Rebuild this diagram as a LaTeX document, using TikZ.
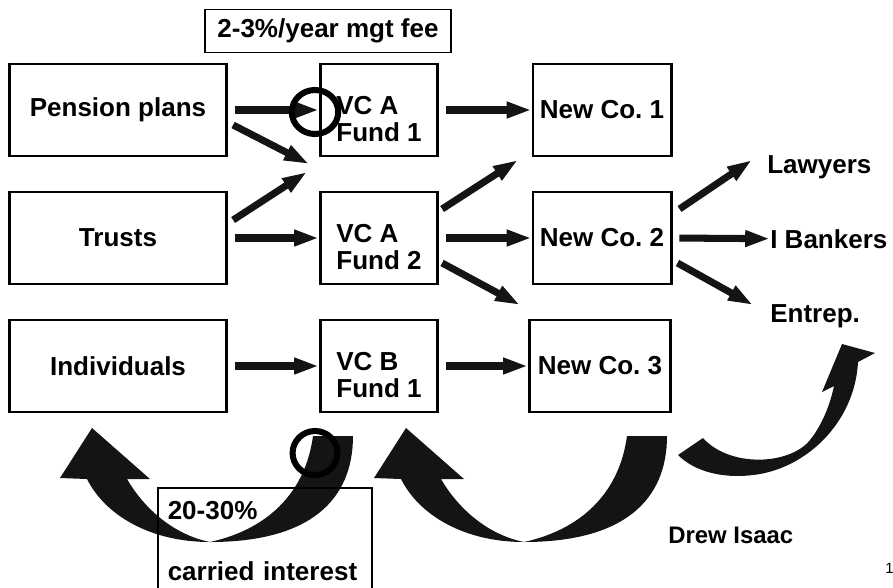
\documentclass[tikz,border=0pt]{standalone}
\usepackage{fontspec}
\setmainfont{Liberation Sans}
\usetikzlibrary{arrows.meta}
\usetikzlibrary{calc}
\frenchspacing

\tikzset{
  box/.style={draw, line width=2.1pt, minimum height=2.3cm, inner sep=0pt,
    align=left, font=\bfseries\fontsize{18.5}{19.5}\selectfont},
  fundbox/.style={box, minimum width=2.93cm, text height=1.6cm},
  thinbox/.style={draw, line width=1.1pt, font=\bfseries\fontsize{18.5}{19.5}\selectfont},
  lbl/.style={anchor=base west, inner sep=0pt, font=\bfseries\fontsize{18.5}{19.5}\selectfont},
  flow/.style={line width=5pt, draw=black!92, -{Triangle[length=0.62cm,width=0.38cm]}},
  hflow/.style={flow, shorten <=0.17cm},
  bigarrow/.style={fill=black!92},
  ring/.style={draw=black, line width=4.3pt},
}

\begin{document}
\begin{tikzpicture}[x=0.025cm, y=-0.025cm]
  \useasboundingbox (0,0) rectangle (893,587);
  \clip (0,0) rectangle (893,587);

  % where the money comes from
  \node[box, minimum width=5.43cm] (pension) at (118,110) {Pension plans};
  \node[box, minimum width=5.43cm] (trusts) at (118,238) {Trusts};
  \node[box, minimum width=5.43cm] (indiv) at (118,366) {Individuals};

  % funds
  \node[fundbox] (fundA1) at (379,110) {VC A\\Fund 1};
  \node[fundbox] (fundA2) at (379,238) {VC A\\Fund 2};
  \node[fundbox] (fundB1) at (379,366) {VC B\\Fund 1};

  % companies
  \node[box, minimum width=3.45cm] (newco1) at (602,110) {New Co. 1};
  \node[box, minimum width=3.45cm] (newco2) at (602,238) {New Co. 2};
  \node[box, minimum width=3.53cm] (newco3) at (600,366) {New Co. 3};

  \node[lbl] (lawyers) at (767,173) {Lawyers};
  \node[lbl] (bankers) at (770,248) {I Bankers};
  \node[lbl] (entrep) at (770,322) {Entrep.};

  \node[thinbox, minimum width=6.15cm, minimum height=1.08cm, inner sep=0pt] (fee) at (328,31) {2-3\%/year mgt fee};
  \node[lbl, font=\bfseries\fontsize{17}{20}\selectfont] (author) at (668,543) {Drew Isaac};
  \node[lbl, font=\fontsize{10.6}{12}\selectfont] (pagenum) at (885,573) {1};

  \coordinate (j1) at (309,164);
  \coordinate (j2) at (307,172);
  \coordinate (j3) at (518,160);
  \coordinate (j4) at (520,305);
  \coordinate (tolaw) at (752,160);
  \coordinate (toent) at (753,305);

  \draw[hflow] (pension.east) -- (fundA1.west);
  \draw[flow] ($(pension.east)+(5,15)$) -- (j1);
  \draw[flow] ($(trusts.east)+(5,-18)$) -- (j2);
  \draw[hflow] (trusts.east) -- (fundA2.west);
  \draw[hflow] (indiv.east) -- (fundB1.west);
  \draw[hflow] (fundA1.east) -- (newco1.west);
  \draw[flow] ($(fundA2.east)+(3,-29)$) -- (j3);
  \draw[hflow] (fundA2.east) -- (newco2.west);
  \draw[flow] ($(fundA2.east)+(3,25)$) -- (j4);
  \draw[hflow] (fundB1.east) -- (newco3.west);
  \draw[flow] ($(newco2.east)+(7,-29)$) -- (tolaw);
  \draw[hflow] (newco2.east) -- (bankers.west);
  \draw[flow] ($(newco2.east)+(5,25)$) -- (toent);

  % money flowing back
  \foreach \dx in {0,314}
    \fill[bigarrow, shift={(\dx,0)}] (313,436) -- (353,436)
      .. controls (353,500) and (310,542) .. (210,542)
      .. controls (150,542) and (105,515) .. (87,479)
      -- (60,478) -- (92,428) -- (150,479) -- (127,479)
      .. controls (145,510) and (175,535) .. (210,542)
      .. controls (265,530) and (305,495) .. (313,436) -- cycle;
  \fill[bigarrow] (678,455) -- (703,438)
    .. controls (730,468) and (790,465) .. (810,440)
    .. controls (822,425) and (830,405) .. (834,386)
    -- (822,392) -- (842,344) -- (875,353) -- (858,362)
    .. controls (855,420) and (810,465) .. (760,474)
    .. controls (725,480) and (695,472) .. (678,455) -- cycle;

  \node[thinbox, anchor=north west, text width=4.85cm, inner xsep=0.25cm, inner ysep=0.33cm, align=left] (carry) at (157,487) {20-30\%\\[0.85cm]carried interest};

  \draw[ring] (315,112) ellipse [x radius=0.58cm, y radius=0.55cm];
  \draw[ring] (315,453) ellipse [x radius=0.56cm, y radius=0.55cm];
\end{tikzpicture}
\end{document}
